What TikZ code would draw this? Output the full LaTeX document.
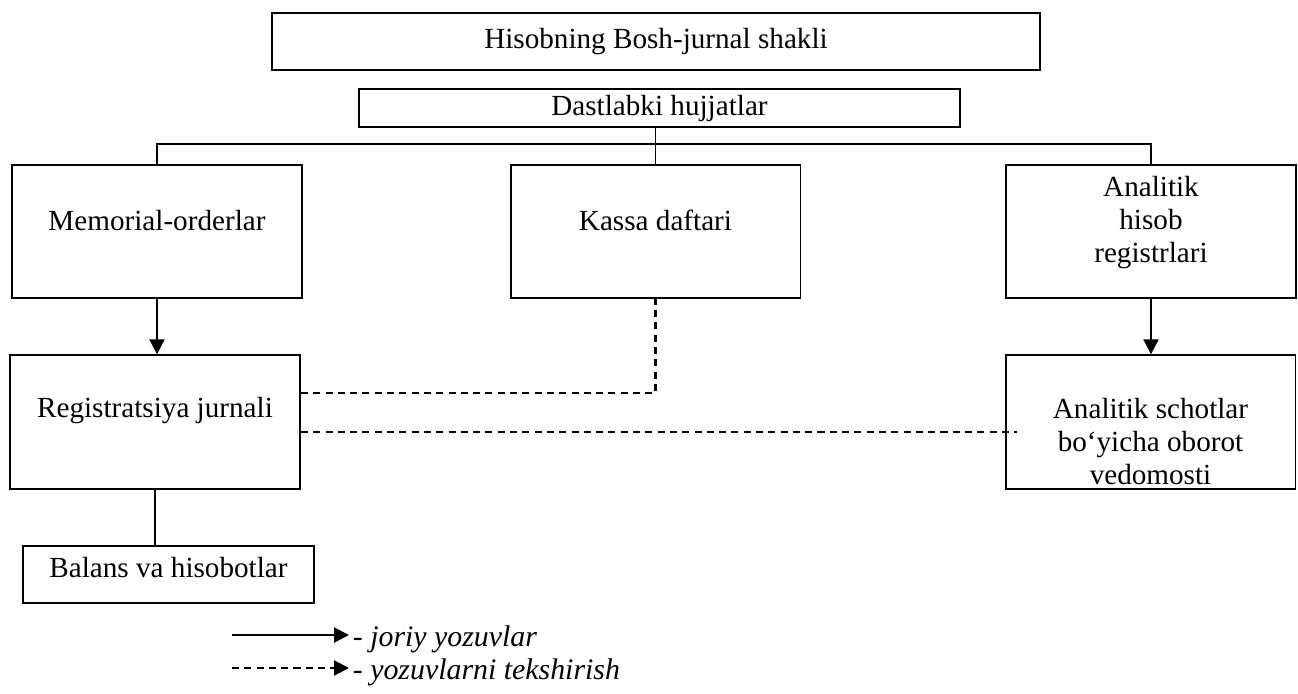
\documentclass[tikz,border=0pt]{standalone}
\usepackage{fontspec}
\setmainfont{Liberation Serif}
\usetikzlibrary{arrows.meta, positioning}

\begin{document}
\begin{tikzpicture}[
    x=0.02cm, y=-0.02cm,
    font=\fontsize{16.6}{19}\selectfont,
    box/.style={rectangle, draw, line width=1.1pt, inner sep=0pt, align=center, text height=12pt},
    wbox/.style={box, minimum width=5.8cm, minimum height=2.67cm},
    link/.style={line width=1.1pt},
    arrow/.style={-{Triangle[length=0.3cm, width=0.3cm]}, line width=1.2pt},
    check/.style={line width=1.2pt, dash pattern=on 4pt off 3pt},
    legtext/.style={font=\fontsize{17}{19}\selectfont\itshape, inner sep=2pt, anchor=base west}
  ]
    \useasboundingbox (0,0) rectangle (1298,693);

    % boxes
    \node[box, minimum width=15.36cm, minimum height=1.14cm, text depth=3.8pt] (head) at (656,41.5) {Hisobning Bosh-jurnal shakli};
    \node[box, minimum width=12.02cm, minimum height=0.76cm, text depth=3.6pt] (docs) at (659.5,108) {Dastlabki hujjatlar};
    \node[wbox, text depth=13.5pt] (memo) at (157,231.5) {Memorial-orderlar};
    \node[wbox, text depth=13.5pt] (kassa) at (655.5,231.5) {Kassa daftari};
    \node[wbox, text height=40pt, text depth=4.2pt] (analit) at (1151,231.5) {Analitik\\hisob\\registrlari};
    \node[wbox, text depth=16.9pt] (regjur) at (155,422) {Registratsiya jurnali};
    \node[wbox, text height=71.6pt, text depth=0pt] (oborot) at (1150.5,422) {Analitik schotlar\\bo‘yicha oborot\\vedomosti};
    \node[box, minimum width=5.82cm, minimum height=1.14cm, text depth=9pt] (balans) at (168.5,574.5) {Balans va hisobotlar};

    % connectors
    \draw[link] (memo.north) -- ++(0,-20) -| (analit.north);
    \draw[link] (kassa.north |- docs.south) -- (kassa.north);
    \draw[arrow] (memo.south) -- (memo.south |- regjur.north);
    \draw[arrow] (analit.south) -- (analit.south |- oborot.north);
    \draw[check] ([yshift=0.58cm]regjur.east) -| (kassa.south);
    \draw[check] ([yshift=-0.2cm]regjur.east) -- ([xshift=0.24cm,yshift=-0.2cm]oborot.west);
    \draw[link] (regjur.south) -- (regjur.south |- balans.north);

    % legend
    \node[legtext] (lgcur) at (349,646) {- joriy yozuvlar};
    \node[legtext] (lgchk) at (349,679) {- yozuvlarni tekshirish};
    \coordinate (lgcurstart) at (232,635);
    \coordinate (lgchkstart) at (232,668);
    \draw[arrow] (lgcurstart) -- (lgcurstart -| lgcur.west);
    \draw[arrow, check] (lgchkstart) -- (lgchkstart -| lgchk.west);
\end{tikzpicture}
\end{document}
